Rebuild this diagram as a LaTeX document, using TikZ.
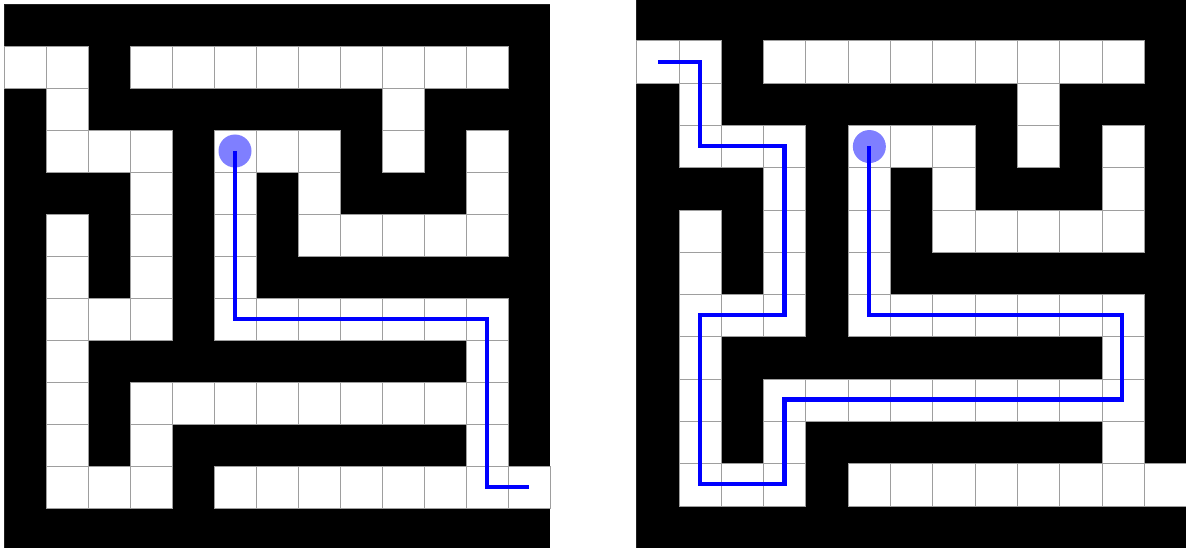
\documentclass[tikz,border=0pt]{standalone}
\tikzset{
  wallbg/.style={fill=black},
  faintgrid/.style={draw=black!88!white, line width=0.5pt},
  opencell/.style={fill=white, draw=black!38!white, line width=0.9pt},
  route/.style={draw={rgb,255:red,0;green,0;blue,255}, line width=4.2pt, line join=miter},
  startdot/.style={circle, fill={rgb,255:red,0;green,0;blue,255}, fill opacity=0.5, draw=none, inner sep=0pt, minimum size=33pt},
}
\newcommand{\drawmazecells}{%
  \fill[wallbg] (0,0) rectangle (13,13);
  \draw[faintgrid] (0,0) grid (13,13);
  \foreach \r/\cols in {1/{0,1,3,4,5,6,7,8,9,10,11},2/{1,9},3/{1,2,3,5,6,7,9,11},4/{3,5,7,11},5/{1,3,5,7,8,9,10,11},6/{1,3,5},7/{1,2,3,5,6,7,8,9,10,11},8/{1,11},9/{1,3,4,5,6,7,8,9,10,11},10/{1,3,11},11/{1,2,3,5,6,7,8,9,10,11,12}}{
    \foreach \c in \cols {
      \path[opencell] (\c,\r) rectangle ++(1,1);
    }
  }%
}
\begin{document}
\begin{tikzpicture}[x=1pt,y=-1pt]
\useasboundingbox (0,0) rectangle (1186,548);
\fill[white] (0,0) rectangle (1186,548);
% left maze
\begin{scope}[shift={(4,4)}, scale=42]
  \drawmazecells
  \node[startdot] (Lstart) at (5.5,3.5) {};
  \coordinate (L1) at (5.5,7.5);
  \coordinate (L2) at (11.5,7.5);
  \coordinate (L3) at (11.5,11.5);
  \coordinate (Lend) at (12.5,11.5);
  \draw[route] (Lstart.center) -- (L1) -- (L2) -- (L3) -- (Lend);
\end{scope}
% right maze
\begin{scope}[shift={(636.7,-1.5)}, scale=42.3]
  \drawmazecells
  \node[startdot] (Rstart) at (5.5,3.5) {};
  \coordinate (R1) at (5.5,7.5);
  \coordinate (R2) at (11.5,7.5);
  \coordinate (R3) at (11.5,9.5);
  \coordinate (R4) at (3.5,9.5);
  \coordinate (R5) at (3.5,11.5);
  \coordinate (R6) at (1.5,11.5);
  \coordinate (R7) at (1.5,7.5);
  \coordinate (R8) at (3.5,7.5);
  \coordinate (R9) at (3.5,3.5);
  \coordinate (R10) at (1.5,3.5);
  \coordinate (R11) at (1.5,1.5);
  \coordinate (Rend) at (0.5,1.5);
  \draw[route] (Rstart.center) -- (R1) -- (R2) -- (R3) -- (R4) -- (R5) -- (R6) -- (R7) -- (R8) -- (R9) -- (R10) -- (R11) -- (Rend);
\end{scope}
\end{tikzpicture}
\end{document}
